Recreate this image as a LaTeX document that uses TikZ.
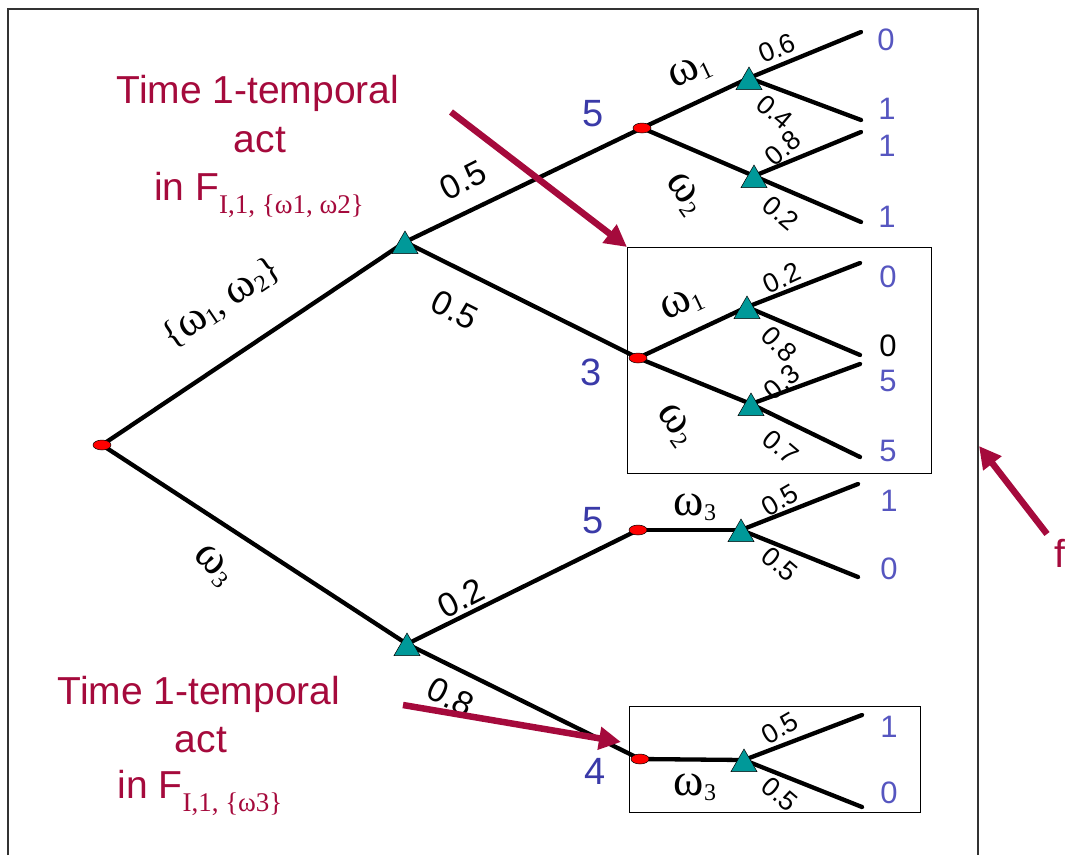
\documentclass[tikz,border=0pt]{standalone}
\usepackage{fontspec}
\setmainfont{Liberation Sans}
\newfontfamily\serif{Liberation Serif}
\usetikzlibrary{shapes.geometric,arrows.meta}
\definecolor{crim}{HTML}{A50A3C}
\definecolor{dblue}{HTML}{3A3AA8}
\definecolor{lblue}{HTML}{5656C0}
\definecolor{tealc}{HTML}{009999}
\newcommand{\fs}[1]{\fontsize{#1}{#1}\selectfont}
\newcommand{\om}[1]{{\serif\fs{46}ω\raisebox{-5pt}{\fs{24}#1}}}
\begin{document}
\begin{tikzpicture}[x=1pt,y=-1pt,
 tline/.style={line width=4.3pt, line cap=round},
 decn/.style={ellipse, draw=black, line width=0.5pt, fill=red, minimum width=18pt, minimum height=10pt, inner sep=0pt},
 chn/.style={regular polygon, regular polygon sides=3, draw=black, line width=0.5pt, fill=tealc, minimum size=30pt, inner sep=0pt, yshift=-4pt},
 bigp/.style={font=\fs{34}, inner sep=0pt},
 smp/.style={font=\fs{27}, inner sep=0pt},
 oml/.style={inner sep=0pt},
 valn/.style={font=\fs{38}, text=dblue, inner sep=0pt},
 leafn/.style={font=\fs{31}, text=lblue, inner sep=0pt},
 crimt/.style={font=\fs{39}, text=crim, inner sep=0pt, anchor=base},
 redarrow/.style={line width=6.5pt, draw=crim, -{Triangle[length=22pt,width=22pt]}},
 framebox/.style={draw=black, line width=1.4pt, inner sep=0pt, anchor=north west},
]
\useasboundingbox (0,0) rectangle (1068,855);
% outer frame
\coordinate (fbl) at (8,855);
\coordinate (ftl) at (8,9);
\coordinate (ftr) at (978,9);
\coordinate (fbr) at (978,855);
\draw[line width=2.2pt, black!80] (fbl) -- (ftl) -- (ftr) -- (fbr);

% boxes
\node[framebox, minimum width=304pt, minimum height=226pt] (box2) at (627,247) {};
\node[framebox, minimum width=291pt, minimum height=106pt] (box3) at (629,706) {};

% positions
\coordinate (r) at (102,445);
\coordinate (a) at (405,242);
\coordinate (b) at (407,644);
\coordinate (u1) at (642,128);
\coordinate (u2) at (638,358);
\coordinate (l1) at (638,530);
\coordinate (l2) at (640,759);
\coordinate (t11) at (749,78);
\coordinate (t12) at (754,176);
\coordinate (t21) at (747,307);
\coordinate (t22) at (751,404);
\coordinate (t31) at (741,530);
\coordinate (t41) at (744,760);
\coordinate (e1) at (861,32);
\coordinate (e2) at (861,120);
\coordinate (e3) at (861,132);
\coordinate (e4) at (861,222);
\coordinate (e5) at (860,263);
\coordinate (e6) at (860,355);
\coordinate (e7) at (860,364);
\coordinate (e8) at (860,457);
\coordinate (e9) at (858,484);
\coordinate (e10) at (858,577);
\coordinate (e11) at (862,715);
\coordinate (e12) at (862,807);

% tree lines
\draw[tline] (r) -- (a);
\draw[tline] (r) -- (b);
\draw[tline] (a) -- (u1);
\draw[tline] (a) -- (u2);
\draw[tline] (b) -- (l1);
\draw[tline] (b) -- (l2);
\draw[tline] (u1) -- (t11);
\draw[tline] (u1) -- (t12);
\draw[tline] (u2) -- (t21);
\draw[tline] (u2) -- (t22);
\draw[tline] (l1) -- (t31);
\draw[tline] (l2) -- (t41);
\draw[tline] (t11) -- (e1);
\draw[tline] (t11) -- (e2);
\draw[tline] (t12) -- (e3);
\draw[tline] (t12) -- (e4);
\draw[tline] (t21) -- (e5);
\draw[tline] (t21) -- (e6);
\draw[tline] (t22) -- (e7);
\draw[tline] (t22) -- (e8);
\draw[tline] (t31) -- (e9);
\draw[tline] (t31) -- (e10);
\draw[tline] (t41) -- (e11);
\draw[tline] (t41) -- (e12);

% node shapes
\node[decn] (rs) at (r) {};
\node[decn] (u1s) at (u1) {};
\node[decn] (u2s) at (u2) {};
\node[decn] (l1s) at (l1) {};
\node[decn] (l2s) at (l2) {};
\node[chn] (as) at (a) {};
\node[chn] (bs) at (b) {};
\node[chn] (t11s) at (t11) {};
\node[chn] (t12s) at (t12) {};
\node[chn] (t21s) at (t21) {};
\node[chn] (t22s) at (t22) {};
\node[chn] (t31s) at (t31) {};
\node[chn] (t41s) at (t41) {};

% big edge labels
\node[oml, rotate=34] (lw12) at (222,303) {{\serif\fs{36}\{\fs{44}ω\raisebox{-5pt}{\fs{24}1}\fs{36}, \fs{44}ω\raisebox{-5pt}{\fs{24}2}\fs{36}\}}};
\node[oml, rotate=-45] (lw3) at (213,566) {\om{3}};
\node[bigp, rotate=27] (p1) at (463,180) {0.5};
\node[bigp, rotate=-27] (p2) at (455,310) {0.5};
\node[bigp, rotate=27] (p3) at (461,598) {0.2};
\node[bigp, rotate=-27] (p4) at (451,697) {0.8};

% upper sub-tree labels
\node[oml, rotate=25] (w1a) at (690,72) {\om{1}};
\node[oml, rotate=-55] (w2a) at (684,194) {\om{2}};
\node[smp, rotate=22] (q1) at (777,48) {0.6};
\node[smp, rotate=-40] (q2) at (775,112) {0.4};
\node[smp, rotate=40] (q3) at (783,148) {0.8};
\node[smp, rotate=-40] (q4) at (781,213) {0.2};
% box 2 labels
\node[oml, rotate=25] (w1b) at (682,304) {\om{1}};
\node[oml, rotate=-55] (w2b) at (675,425) {\om{2}};
\node[smp, rotate=25] (q5) at (782,278) {0.2};
\node[smp, rotate=-45] (q6) at (779,344) {0.8};
\node[smp, rotate=40] (q7) at (782,382) {0.3};
\node[smp, rotate=-40] (q8) at (781,447) {0.7};
% lower labels
\node[oml] (w3a) at (695,507) {\om{3}};
\node[smp, rotate=30] (q9) at (780,500) {0.5};
\node[smp, rotate=-40] (q10) at (780,564) {0.5};
\node[oml] (w3b) at (695,787) {\om{3}};
\node[smp, rotate=30] (q11) at (780,728) {0.5};
\node[smp, rotate=-40] (q12) at (780,794) {0.5};

% values at decision nodes
\node[valn] (v1) at (593,114) {5};
\node[valn] (v2) at (591,372) {3};
\node[valn] (v3) at (593,521) {5};
\node[valn] (v4) at (595,771) {4};

% leaf values
\node[leafn] (o1) at (886,40) {0};
\node[leafn] (o2) at (887,109) {1};
\node[leafn] (o3) at (887,146) {1};
\node[leafn] (o4) at (887,217) {1};
\node[leafn] (o5) at (888,277) {0};
\node[leafn, text=black] (o6) at (888,346) {0};
\node[leafn] (o7) at (888,381) {5};
\node[leafn] (o8) at (888,451) {5};
\node[leafn] (o9) at (889,501) {1};
\node[leafn] (o10) at (889,569) {0};
\node[leafn] (o11) at (889,727) {1};
\node[leafn] (o12) at (889,793) {0};

% crimson texts
\node[crimt] (ta1) at (258,103) {Time 1-temporal};
\node[crimt] (ta2) at (260,152) {act};
\node[crimt] (ta3) at (259,200) {in F\raisebox{-13pt}{\serif\fs{27}I,1, \{ω1, ω2\}}};
\node[crimt] (tb1) at (199,704) {Time 1-temporal};
\node[crimt] (tb2) at (201,752) {act};
\node[crimt] (tb3) at (200,798) {in F\raisebox{-13pt}{\serif\fs{27}I,1, \{ω3\}}};
\node[font=\fs{39}, text=crim, inner sep=0pt] (fl) at (1060,553) {f};

% arrows
\coordinate (a1s) at (451,112);
\coordinate (a2s) at (403,705);
\coordinate (a2e) at (621,742);
\coordinate (a3s) at (1047,534);
\coordinate (a3e) at (979,446);
\draw[redarrow] (a1s) -- (box2.north west);
\draw[redarrow] (a2s) -- (a2e);
\draw[redarrow] (a3s) -- (a3e);
\end{tikzpicture}
\end{document}
